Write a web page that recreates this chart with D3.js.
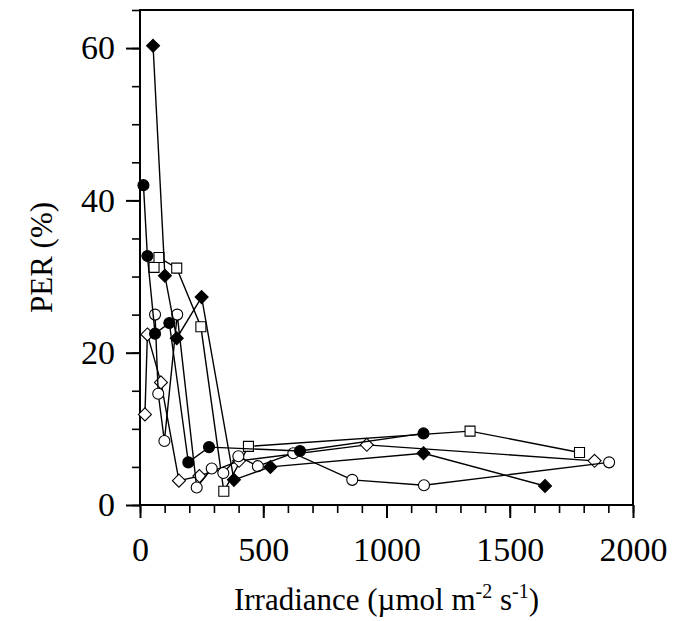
<!DOCTYPE html>
<html>
<head>
<meta charset="utf-8">
<script src="https://cdn.jsdelivr.net/npm/d3@7/dist/d3.min.js"></script>
<style>
  body { margin: 0; background: #fff; }
  svg { display: block; font-family: "Liberation Serif", "Times New Roman", serif; }
</style>
</head>
<body>
<div id="chart"></div>
<script>
// irradiance (x) and PER % (y) per series
const filledCircleX = [14, 30, 61, 119, 196, 280, 649, 1150];
const filledCircleY = [42.0, 32.7, 22.5, 23.9, 5.6, 7.6, 7.1, 9.4];

const openCircleX = [61, 74, 99, 151, 230, 291, 338, 399, 478, 622, 861, 1152, 1903];
const openCircleY = [25.0, 14.6, 8.4, 25.0, 2.3, 4.8, 4.2, 6.4, 5.1, 6.8, 3.3, 2.6, 5.6];

const filledDiamondX = [53, 101, 149, 250, 381, 529, 1150, 1643];
const filledDiamondY = [60.3, 30.1, 21.9, 27.3, 3.3, 5.0, 6.8, 2.5];

const openDiamondX = [20, 30, 85, 158, 241, 402, 920, 1844];
const openDiamondY = [11.9, 22.4, 16.1, 3.2, 3.8, 5.8, 7.9, 5.8];

const openSquareX = [57, 77, 149, 247, 340, 440, 1339, 1783];
const openSquareY = [31.2, 32.5, 31.1, 23.4, 1.8, 7.7, 9.7, 6.9];

const xTicks = [0, 500, 1000, 1500, 2000];
const yTicks = [0, 20, 40, 60];

const series = [
  { xs: openSquareX, ys: openSquareY, shape: "square", filled: false },
  { xs: openDiamondX, ys: openDiamondY, shape: "diamond", filled: false },
  { xs: openCircleX, ys: openCircleY, shape: "circle", filled: false },
  { xs: filledDiamondX, ys: filledDiamondY, shape: "diamond", filled: true },
  { xs: filledCircleX, ys: filledCircleY, shape: "circle", filled: true }
];

const width = 680, height = 621;
const margin = { top: 10, right: 47, bottom: 116, left: 140 };
const innerW = width - margin.left - margin.right;
const innerH = height - margin.top - margin.bottom;

const svg = d3.select("#chart").append("svg")
  .attr("width", width)
  .attr("height", height)
  .attr("viewBox", `0 0 ${width} ${height}`);

const root = svg.append("g").attr("transform", `translate(${margin.left}, ${margin.top})`);

const x = d3.scaleLinear().domain([0, 2000]).range([0, innerW]);
const y = d3.scaleLinear().domain([0, 65]).range([innerH, 0]);

// frame
root.append("rect")
  .attr("x", 0).attr("y", 0)
  .attr("width", innerW).attr("height", innerH)
  .attr("fill", "none").attr("stroke", "#000").attr("stroke-width", 2);

// minor ticks
root.append("g")
  .attr("transform", `translate(0, ${innerH})`)
  .call(d3.axisBottom(x).tickValues(d3.range(0, 2001, 100)).tickSize(8).tickFormat(""))
  .call((g) => g.select(".domain").remove())
  .call((g) => g.selectAll("line").attr("stroke", "#000").attr("stroke-width", 1.6));

root.append("g")
  .call(d3.axisLeft(y).tickValues(d3.range(0, 66, 5)).tickSize(8).tickFormat(""))
  .call((g) => g.select(".domain").remove())
  .call((g) => g.selectAll("line").attr("stroke", "#000").attr("stroke-width", 1.6));

// major ticks + labels
root.append("g")
  .attr("transform", `translate(0, ${innerH})`)
  .call(d3.axisBottom(x).tickValues(xTicks).tickSize(13).tickPadding(19).tickFormat(d3.format("d")))
  .call((g) => g.select(".domain").remove())
  .call((g) => g.selectAll("line").attr("stroke", "#000").attr("stroke-width", 2))
  .call((g) => g.selectAll("text").attr("fill", "#000").attr("font-size", "34").attr("font-family", "Liberation Serif, serif"));

root.append("g")
  .call(d3.axisLeft(y).tickValues(yTicks).tickSize(14).tickPadding(11).tickFormat(d3.format("d")))
  .call((g) => g.select(".domain").remove())
  .call((g) => g.selectAll("line").attr("stroke", "#000").attr("stroke-width", 2))
  .call((g) => g.selectAll("text").attr("fill", "#000").attr("font-size", "34").attr("font-family", "Liberation Serif, serif"));

// axis titles
const xTitle = root.append("text")
  .attr("x", innerW / 2)
  .attr("y", innerH + 105)
  .attr("text-anchor", "middle")
  .attr("font-size", "31")
  .attr("fill", "#000");
xTitle.append("tspan").text("Irradiance (µmol m");
xTitle.append("tspan").attr("dy", -12).attr("font-size", "20").text("-2");
xTitle.append("tspan").attr("dy", 12).text(" s");
xTitle.append("tspan").attr("dy", -12).attr("font-size", "20").text("-1");
xTitle.append("tspan").attr("dy", 12).text(")");

root.append("text")
  .attr("transform", `translate(${-88}, ${innerH / 2}) rotate(-90)`)
  .attr("text-anchor", "middle")
  .attr("font-size", "31")
  .attr("fill", "#000")
  .text("PER (%)");

// series
const line = d3.line().x((d) => x(d[0])).y((d) => y(d[1]));
const diamond = (r) => `M0,${-r}L${r},0L0,${r}L${-r},0Z`;

series.forEach((s) => {
  const pts = s.xs.map((v, i) => [v, s.ys[i]]);
  root.append("path")
    .datum(pts)
    .attr("d", line)
    .attr("fill", "none")
    .attr("stroke", "#000")
    .attr("stroke-width", 1.4);

  const shapePath = s.shape === "circle" ? d3.symbol().type(d3.symbolCircle).size(95)()
    : s.shape === "square" ? d3.symbol().type(d3.symbolSquare).size(100)()
    : diamond(6.5);
  root.selectAll(null)
    .data(pts)
    .enter()
    .append("path")
    .attr("transform", (d) => `translate(${x(d[0])}, ${y(d[1])})`)
    .attr("d", shapePath)
    .attr("fill", s.filled ? "#000" : "#fff")
    .attr("stroke", "#000")
    .attr("stroke-width", 1.1);
});
</script>
</body>
</html>
